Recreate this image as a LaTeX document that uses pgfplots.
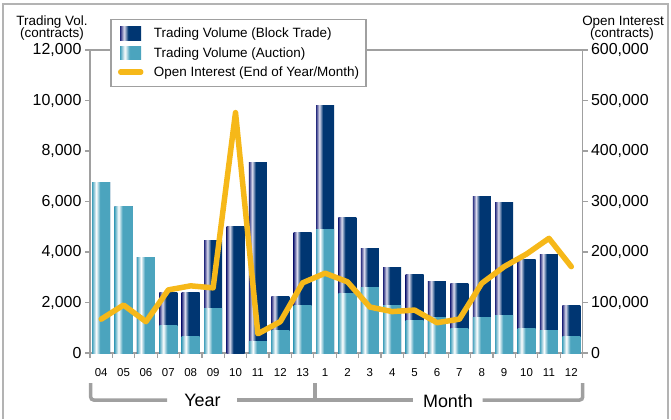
\documentclass[border=0pt]{standalone}
\usepackage{pgfplots}
\pgfplotsset{compat=1.18}
\usepackage{fontspec}
\setmainfont{Liberation Sans}

\definecolor{navy}{HTML}{003672}
\definecolor{navyl}{HTML}{2A2F80}
\definecolor{lteal}{HTML}{4BA4BE}
\definecolor{lav}{HTML}{DCDCEE}
\definecolor{oi}{HTML}{F6B819}
\definecolor{axgray}{HTML}{A0A0A0}

\pgfdeclarehorizontalshading{lightbar}{100bp}{color(0bp)=(lteal); color(25bp)=(lteal); color(36bp)=(white); color(47bp)=(lteal); color(100bp)=(lteal)}
\pgfdeclarehorizontalshading{darkbar}{100bp}{color(0bp)=(navyl); color(25bp)=(navyl); color(34bp)=(lav); color(44bp)=(navy); color(100bp)=(navy)}

% years 04-13, then months 1-12; total = auction + block trade
\pgfplotstableread{
x auction total oi
0  6750 6750 67000
1  5800 5800 95000
2  3780 3780 62000
3  1100 2400 125000
4  650  2400 133000
5  1780 4450 129000
6  0    5000 476000
7  450  7560 38000
8  900  2250 62000
9  1870 4780 139000
10 4900 9820 158000
11 2370 5380 141000
12 2580 4150 91000
13 1870 3400 82000
14 1270 3120 85000
15 1420 2850 60000
16 990  2770 67000
17 1420 6180 138000
18 1500 5980 171000
19 990  3720 196000
20 910  3920 227000
21 670  1900 171000
}\datatable

\begin{document}
\begin{tikzpicture}[x=1bp,y=1bp]
\useasboundingbox (0,0) rectangle (671,419);
\draw[axgray!80, line width=1.5bp] (3,0) -- (3,415) -- (668,415) -- (668,0);

\begin{axis}[
  at={(90bp,66bp)}, anchor=south west, scale only axis,
  width=492.5bp, height=303bp,
  xmin=-0.5, xmax=21.5, ymin=0, ymax=12000,
  axis line style={axgray, line width=1.5bp},
  tick align=outside, xtick pos=left, ytick pos=left,
  major tick length=5bp, minor tick length=5bp,
  ytick={0,2000,...,12000},
  y tick style={axgray, line width=1.2bp},
  xtick={0,...,21},
  xticklabels={04,05,06,07,08,09,10,11,12,13,1,2,3,4,5,6,7,8,9,10,11,12},
  major x tick style={draw=none},
  minor xtick={-0.5,0.5,...,21.5},
  minor x tick style={axgray, line width=1.2bp},
  xticklabel style={font=\fontsize{11.5}{11.5}\selectfont},
  xticklabel shift=7bp,
  yticklabel style={font=\fontsize{16}{16}\selectfont},
  scaled y ticks=false,
  /pgf/number format/fixed,
  /pgf/number format/1000 sep={,},
  /pgf/number format/assume math mode=true,
]
\pgfplotsinvokeforeach{0,...,21}{
  \addplot[ybar, bar width=18bp, bar shift=0pt, draw=none, shading=darkbar,
    restrict x to domain=#1:#1] table[x=x, y=total] {\datatable};
  \addplot[ybar, bar width=18bp, bar shift=0pt, draw=none, shading=lightbar,
    restrict x to domain=#1:#1] table[x=x, y=auction] {\datatable};
}
\end{axis}

\begin{axis}[
  at={(90bp,66bp)}, anchor=south west, scale only axis,
  width=492.5bp, height=303bp,
  xmin=-0.5, xmax=21.5, ymin=0, ymax=600000,
  axis x line=none, axis y line*=right,
  axis line style={axgray, line width=1.5bp},
  tick align=outside, major tick length=5bp,
  ytick={0,100000,...,600000}, scaled y ticks=false,
  y tick style={axgray, line width=1.2bp},
  yticklabel style={font=\fontsize{16}{16}\selectfont},
  /pgf/number format/fixed,
  /pgf/number format/1000 sep={,},
  /pgf/number format/assume math mode=true,
  legend cell align=left,
  legend style={at={(0.0411,1.1038)}, anchor=north west,
    draw=axgray, line width=1.5bp, fill=white,
    font=\fontsize{13.5}{13.5}\selectfont,
    inner xsep=7bp, inner ysep=7.5bp, row sep=5.2bp, column sep=10.5bp,
    nodes={inner sep=0bp, text height=10bp, text depth=3bp, anchor=base west}},
]
\addlegendimage{legend image code/.code={\path[draw=none, shading=darkbar] (0bp,-2.4bp) rectangle (21bp,11bp);}}
\addlegendentry{Trading Volume (Block Trade)}
\addlegendimage{legend image code/.code={\path[draw=none, shading=lightbar] (0bp,-2.4bp) rectangle (21bp,11bp);}}
\addlegendentry{Trading Volume (Auction)}
\addplot[oi, line width=5.5bp, line join=round, line cap=round, mark=none,
  legend image code/.code={\path[draw=none, fill=none] (0bp,-2.4bp) rectangle (21bp,11bp);
    \draw[oi, line width=5.5bp, line cap=round] (0.5bp,4.2bp) -- (20.5bp,4.2bp);}]
  table[x=x, y=oi] {\datatable};
\addlegendentry{Open Interest (End of Year/Month)}
\end{axis}

\node[font=\fontsize{13.5}{13.5}\selectfont] at (52,397) {Trading Vol.};
\node[font=\fontsize{13.5}{13.5}\selectfont] at (52,385) {(contracts)};
\node[font=\fontsize{13.5}{13.5}\selectfont] at (623,397) {Open Interest};
\node[font=\fontsize{13.5}{13.5}\selectfont] at (622,385) {(contracts)};

\draw[axgray, line width=3.5bp, rounded corners=3bp] (90.7,36) -- (90.7,19) -- (167,19);
\draw[axgray, line width=3.5bp] (237,19) -- (413,19);
\draw[axgray, line width=3.5bp] (315,19) -- (315,36);
\draw[axgray, line width=3.5bp, rounded corners=3bp] (482.7,19) -- (582.7,19) -- (582.7,36);
\node[font=\fontsize{18}{18}\selectfont] at (202.5,18.3) {Year};
\node[font=\fontsize{18}{18}\selectfont] at (448,18.3) {Month};
\end{tikzpicture}
\end{document}
